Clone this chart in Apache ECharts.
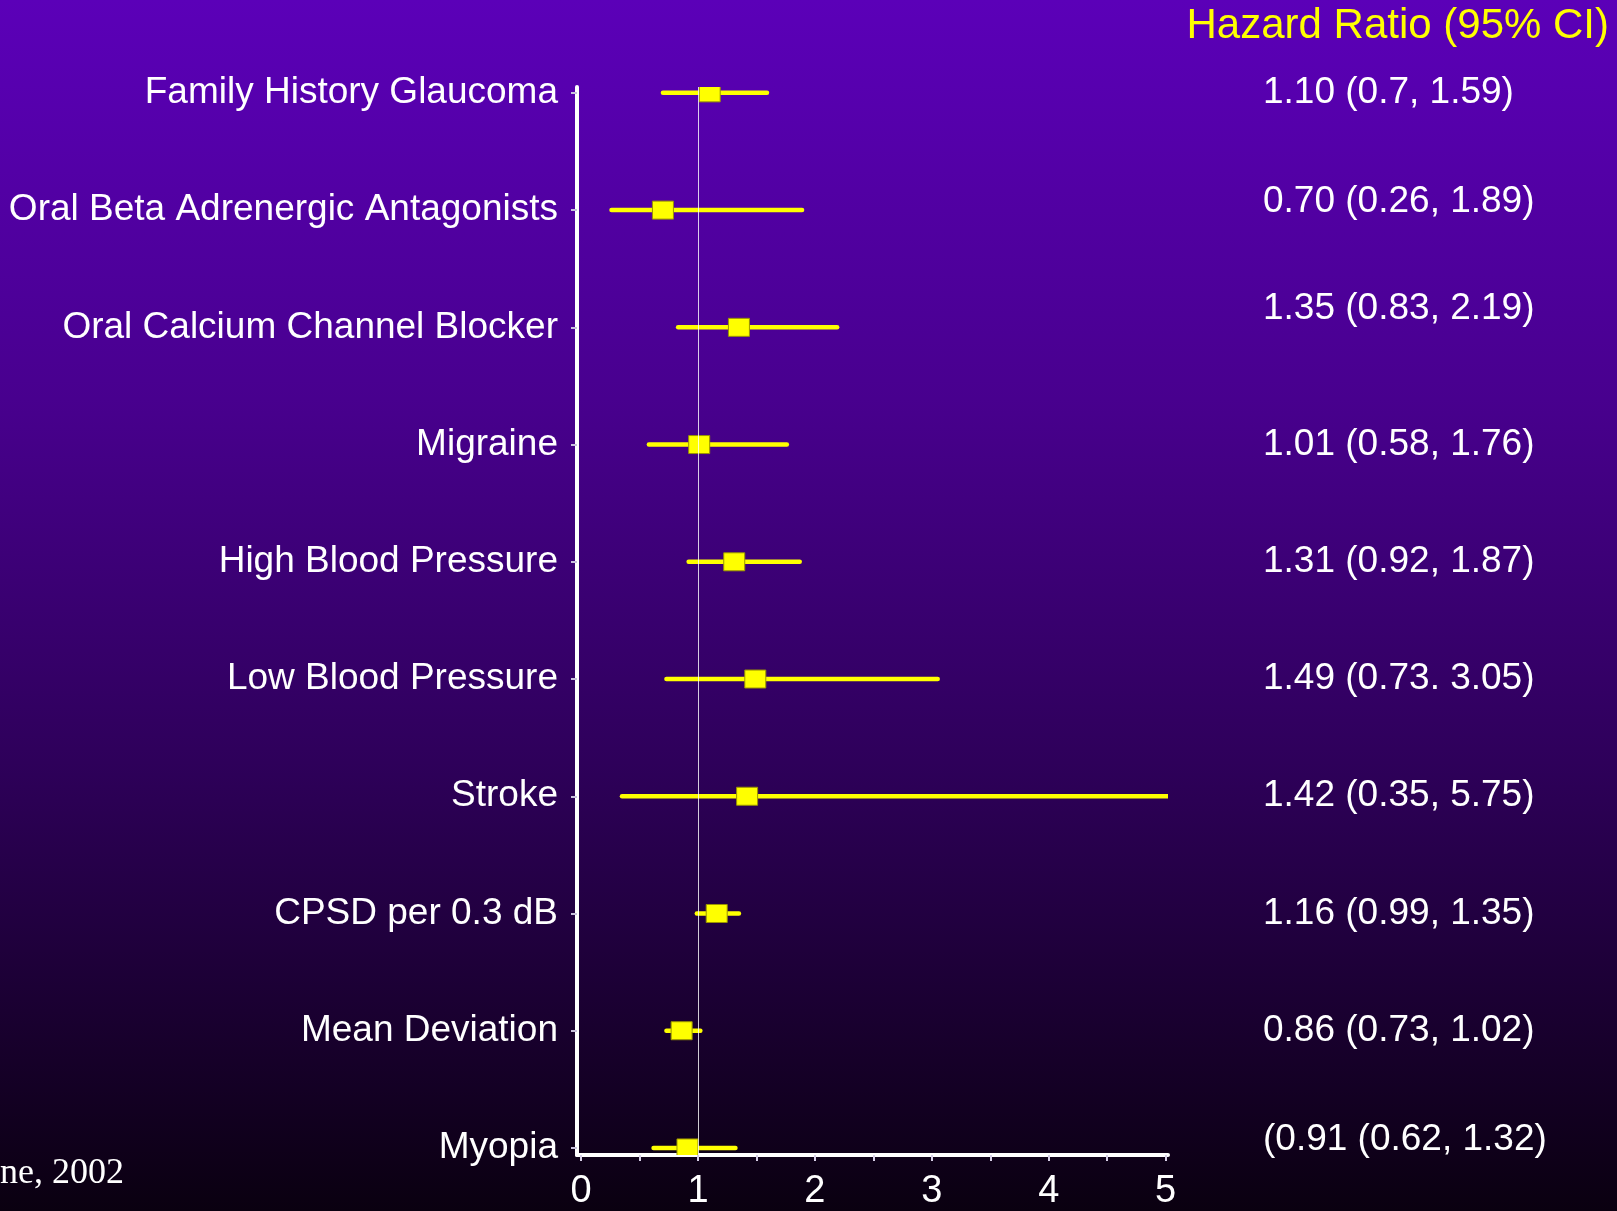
<!DOCTYPE html>
<html>
<head>
<meta charset="utf-8">
<title>Hazard Ratio (95% CI)</title>
<script src="https://cdn.jsdelivr.net/npm/echarts@6/dist/echarts.min.js"></script>
<style>
  html, body { margin: 0; padding: 0; background: #000; }
  #chart { width: 1617px; height: 1211px; }
</style>
</head>
<body>
<div id="chart"></div>
<script>
// Risk factors, top to bottom
const factors = [
  'Family History Glaucoma',
  'Oral Beta Adrenergic Antagonists',
  'Oral Calcium Channel Blocker',
  'Migraine',
  'High Blood Pressure',
  'Low Blood Pressure',
  'Stroke',
  'CPSD per 0.3 dB',
  'Mean Deviation',
  'Myopia'
];
// Hazard ratio point estimates and 95% confidence limits
const hazardRatio = [1.10, 0.70, 1.35, 1.01, 1.31, 1.49, 1.42, 1.16, 0.86, 0.91];
const ciLower     = [0.70, 0.26, 0.83, 0.58, 0.92, 0.73, 0.35, 0.99, 0.73, 0.62];
const ciUpper     = [1.59, 1.89, 2.19, 1.76, 1.87, 3.05, 5.75, 1.35, 1.02, 1.32];
// Printed estimate column, as written on the slide
const ciText = [
  '1.10 (0.7, 1.59)',
  '0.70 (0.26, 1.89)',
  '1.35 (0.83, 2.19)',
  '1.01 (0.58, 1.76)',
  '1.31 (0.92, 1.87)',
  '1.49 (0.73. 3.05)',
  '1.42 (0.35, 5.75)',
  '1.16 (0.99, 1.35)',
  '0.86 (0.73, 1.02)',
  '(0.91 (0.62, 1.32)'
];
// Axis ticks
const xTickLabels = [0, 1, 2, 3, 4, 5];
const xMinorTicks = [0, 0.5, 1, 1.5, 2, 2.5, 3, 3.5, 4, 4.5, 5];
const referenceValue = 1;

const rowIndex = factors.map((_, i) => i);
const forestData = factors.map((_, i) => [ciLower[i], ciUpper[i], hazardRatio[i], i]);

const chart = echarts.init(document.getElementById('chart'), null, { renderer: 'canvas' });

const FONT = '"Liberation Sans", Arial, sans-serif';
const YELLOW = '#ffff00';
const CI_FONT_SIZE = 37;

// The printed estimate column sits slightly above some rows on the slide;
// lift those labels by a few pixels using bottom padding in rich text.
const ciRowLift = { 1: 8, 2: 19, 9: 8 };
const ciRich = { plain: { color: '#ffffff', fontSize: CI_FONT_SIZE, fontFamily: FONT } };
Object.keys(ciRowLift).forEach(k => {
  ciRich['lift' + k] = {
    color: '#ffffff', fontSize: CI_FONT_SIZE, fontFamily: FONT,
    padding: [0, 0, ciRowLift[k] * 2, 0]
  };
});

const option = {
  animation: false,
  backgroundColor: {
    type: 'linear', x: 0, y: 0, x2: 0, y2: 1,
    colorStops: [
      { offset: 0, color: '#5b00b8' },
      { offset: 0.33, color: '#48008e' },
      { offset: 0.63, color: '#2e005a' },
      { offset: 1, color: '#0a0010' }
    ]
  },
  textStyle: { fontFamily: FONT },
  title: {
    text: 'Hazard Ratio (95% CI)',
    right: 8,
    top: 5,
    padding: 0,
    textStyle: { color: YELLOW, fontSize: 42, fontWeight: 'normal', fontFamily: FONT }
  },
  graphic: [{
    type: 'text',
    left: 0,
    top: 1156,
    style: {
      text: 'ne, 2002',
      fill: '#ffffff',
      font: '36px "Liberation Serif", "Times New Roman", serif'
    }
  }],
  grid: { left: 577, right: 449, top: 87, bottom: 53, containLabel: false },
  xAxis: {
    type: 'value',
    min: -0.035,
    max: 5.02,
    axisLine: { show: true, onZero: false, lineStyle: { color: '#ffffff', width: 4 } },
    axisTick: { show: true, customValues: xMinorTicks, length: 6, lineStyle: { color: '#d8d0e8', width: 2 } },
    axisLabel: {
      show: true, customValues: xTickLabels, margin: 18,
      color: '#ffffff', fontSize: 38, fontFamily: FONT,
      formatter: v => String(Math.round(v))
    },
    splitLine: { show: false }
  },
  yAxis: [{
    type: 'value',
    inverse: true,
    min: -0.05,
    max: 9.06,
    position: 'left',
    axisLine: { show: true, onZero: false, lineStyle: { color: '#ffffff', width: 4 } },
    axisTick: { show: true, customValues: rowIndex, length: 6, lineStyle: { color: '#c8c0dc', width: 2 } },
    axisLabel: {
      show: true, customValues: rowIndex, margin: 19,
      color: '#ffffff', fontSize: 37, fontFamily: FONT,
      formatter: v => factors[Math.round(v)]
    },
    splitLine: { show: false }
  }, {
    type: 'value',
    inverse: true,
    min: -0.05,
    max: 9.06,
    position: 'right',
    axisLine: { show: false },
    axisTick: { show: false },
    axisLabel: {
      show: true, customValues: rowIndex, margin: 95, align: 'left',
      color: '#ffffff', fontSize: CI_FONT_SIZE, fontFamily: FONT,
      formatter: v => {
        const i = Math.round(v);
        const style = ciRowLift[i] ? 'lift' + i : 'plain';
        return '{' + style + '|' + ciText[i] + '}';
      },
      rich: ciRich
    },
    splitLine: { show: false }
  }],
  series: [{
    // vertical reference line at HR = 1
    type: 'line',
    data: [],
    z: 1,
    silent: true,
    markLine: {
      silent: true,
      symbol: ['none', 'none'],
      label: { show: false },
      lineStyle: { color: 'rgba(255,255,255,0.8)', width: 1, type: 'solid' },
      data: [{ xAxis: referenceValue }]
    }
  }, {
    // confidence interval whiskers with point-estimate squares
    type: 'custom',
    z: 3,
    clip: true,
    data: forestData,
    encode: { x: [0, 1, 2], y: 3 },
    renderItem: function (params, api) {
      const row = api.value(3);
      const pLo = api.coord([api.value(0), row]);
      const pHi = api.coord([api.value(1), row]);
      const pHr = api.coord([api.value(2), row]);
      const w = 21, h = 18;
      return {
        type: 'group',
        children: [{
          type: 'line',
          shape: { x1: pLo[0], y1: pLo[1], x2: pHi[0], y2: pHi[1] },
          style: { stroke: YELLOW, lineWidth: 4.5, lineCap: 'round' }
        }, {
          type: 'rect',
          shape: { x: pHr[0] - w / 2, y: pHr[1] - h / 2, width: w, height: h },
          style: { fill: YELLOW, stroke: '#9a9400', lineWidth: 1 }
        }]
      };
    }
  }]
};

chart.setOption(option);
</script>
</body>
</html>
